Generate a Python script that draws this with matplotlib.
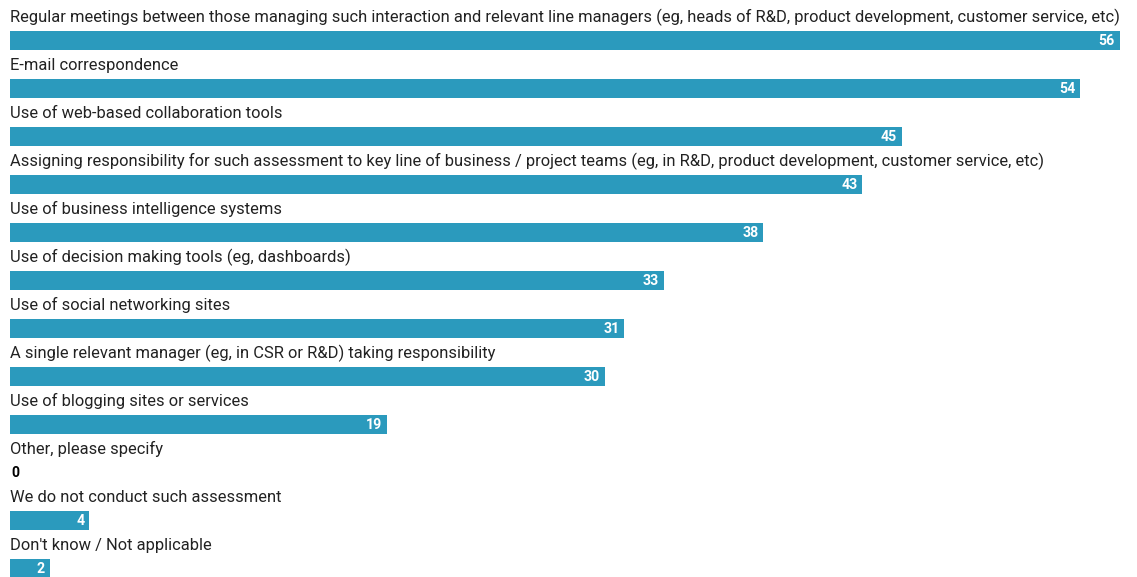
import matplotlib
matplotlib.use("Agg")
import matplotlib.pyplot as plt

# Survey answers, in the order they are listed
labels = [
    "Regular meetings between those managing such interaction and relevant line managers (eg, heads of R&D, product development, customer service, etc)",
    "E-mail correspondence",
    "Use of web-based collaboration tools",
    "Assigning responsibility for such assessment to key line of business / project teams (eg, in R&D, product development, customer service, etc)",
    "Use of business intelligence systems",
    "Use of decision making tools (eg, dashboards)",
    "Use of social networking sites",
    "A single relevant manager (eg, in CSR or R&D) taking responsibility",
    "Use of blogging sites or services",
    "Other, please specify",
    "We do not conduct such assessment",
    "Don't know / Not applicable",
]
values = [56, 54, 45, 43, 38, 33, 31, 30, 19, 0, 4, 2]

barColor = "#2b9abd"
plt.rcParams['font.family'] = ['Roboto', 'DejaVu Sans']

fig = plt.figure(figsize=(11.37, 5.77), dpi=100)
ax = fig.add_axes([0, 0, 1, 1])

positions = list(range(len(values)))
barHeight = 0.4
ax.barh(positions, values, height=barHeight, color=barColor, align="center")

for pos, label, val in zip(positions, labels, values):
    # category text sits just above its bar
    ax.text(0, pos - barHeight / 2 - 0.19, label, ha="left", va="baseline",
            fontsize=11.9, color="#222222")
    if val > 0:
        ax.text(val - 0.25, pos, str(val), ha="right", va="center",
                fontsize=10.2, fontweight="bold", color="white")
    else:
        ax.text(0.05, pos, str(val), ha="left", va="center",
                fontsize=10.2, fontweight="bold", color="black")

ax.set_xlim(-0.5045, 56.86)
ax.set_ylim(11.177, -0.844)
ax.axis("off")

fig.savefig("out.png", dpi=100)
